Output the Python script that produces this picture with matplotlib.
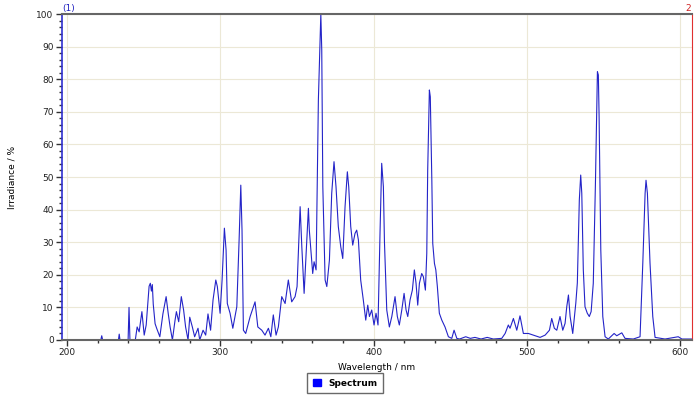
import numpy as np
import matplotlib.pyplot as plt
from matplotlib.ticker import MultipleLocator

# spectrum
wavelength = [
    196.7, 222.0, 222.6, 223.2, 233.5, 234.0, 234.5, 239.8, 240.4, 241.0,
    244.5, 245.7, 247.0, 248.8, 250.3, 251.6, 253.5, 254.3, 255.0, 255.6,
    256.2, 257.4, 258.5, 260.5, 262.5, 264.6, 266.0, 267.2, 268.7, 270.4,
    271.3, 272.8, 274.5, 276.0, 277.3, 278.9, 280.0, 281.7, 283.2, 285.4,
    286.5, 288.7, 290.4, 291.9, 293.6, 295.2, 297.0, 298.0, 299.8, 301.1,
    302.6, 303.7, 304.5, 306.3, 308.1, 310.7, 312.2, 313.3, 314.1, 315.0,
    316.5, 319.4, 322.6, 324.4, 327.0, 329.1, 331.3, 332.9, 334.5, 336.3,
    337.8, 340.0, 342.2, 344.3, 346.5, 348.7, 350.0, 352.0, 353.1, 354.6,
    355.9, 357.4, 358.0, 360.2, 361.1, 362.4, 363.9, 365.5, 366.1, 366.8,
    368.3, 369.4, 371.1, 372.6, 374.1, 375.4, 376.9, 378.5, 379.8, 381.3,
    382.8, 383.7, 385.0, 386.3, 387.8, 388.9, 390.0, 391.5, 393.2, 394.8,
    396.1, 397.2, 398.7, 400.2, 401.5, 402.8, 404.1, 405.2, 406.3, 407.0,
    408.5, 410.2, 411.8, 413.9, 415.4, 416.7, 418.3, 419.8, 421.1, 422.2,
    423.7, 425.2, 426.5, 427.6, 428.7, 429.8, 431.3, 432.4, 433.7, 434.6,
    435.2, 436.3, 436.9, 437.9, 438.5, 439.6, 440.5, 441.5, 442.8, 444.4,
    446.5, 448.7, 450.9, 452.4, 454.2, 456.0, 460.0, 463.0, 466.0, 470.0,
    474.0, 478.0, 483.5, 485.7, 487.8, 488.9, 491.1, 493.3, 495.4, 497.6,
    500.9, 504.1, 508.5, 511.8, 514.6, 516.1, 517.8, 519.4, 521.5, 523.3,
    524.8, 525.9, 527.0, 528.1, 529.8, 531.8, 532.8, 534.1, 535.0, 535.7,
    536.7, 537.8, 539.3, 540.6, 541.8, 543.2, 544.6, 545.9, 546.5, 547.0,
    548.1, 549.4, 550.9, 553.0, 556.8, 558.5, 561.8, 563.9, 569.3, 573.7,
    575.5, 577.0, 577.6, 578.5, 580.2, 582.0, 583.5, 590.0, 598.6, 601.0,
    607.6,
]
irradiance = [
    0.0, 0.0, 1.3, 0.0, 0.0, 1.8, 0.0, 0.0, 10.0, 0.0,
    0.0, 4.0, 2.5, 8.7, 1.5, 4.6, 16.5, 17.4, 15.0, 17.0,
    11.0, 5.0, 3.5, 1.0, 8.0, 13.3, 8.0, 4.0, 0.0, 6.0,
    8.7, 5.6, 13.3, 9.2, 4.0, 0.0, 7.0, 4.0, 1.0, 3.6,
    0.0, 3.0, 1.5, 8.0, 3.0, 12.3, 18.4, 16.4, 8.2, 18.4,
    34.3, 27.6, 11.2, 8.2, 3.6, 10.2, 30.7, 47.5, 33.7, 3.0,
    2.0, 7.2, 11.7, 4.0, 3.0, 1.5, 3.6, 1.0, 7.7, 1.5,
    4.0, 13.3, 11.2, 18.4, 11.7, 13.3, 16.4, 40.9, 28.6, 14.3,
    26.6, 40.4, 33.7, 20.4, 24.0, 21.5, 73.6, 100.0, 89.0, 47.0,
    18.4, 16.4, 24.5, 45.0, 54.7, 47.0, 34.8, 28.6, 25.0, 40.9,
    51.6, 47.0, 34.8, 29.1, 32.7, 33.7, 30.7, 18.4, 12.3, 6.1,
    10.7, 7.2, 9.2, 4.6, 8.2, 4.6, 32.7, 54.2, 47.0, 30.0,
    9.2, 4.0, 7.2, 13.3, 7.2, 4.6, 9.2, 14.3, 9.2, 7.2,
    12.3, 15.3, 21.5, 17.4, 10.7, 17.4, 20.4, 19.4, 15.3, 26.6,
    52.0, 76.7, 74.6, 49.0, 29.6, 23.5, 21.5, 16.4, 8.2, 6.1,
    4.0, 1.0, 0.5, 3.0, 0.5, 0.3, 1.0, 0.5, 0.8, 0.3,
    0.8, 0.3, 0.5, 2.0, 4.6, 3.6, 6.6, 3.0, 7.4, 2.0,
    2.0, 1.5, 0.8, 1.5, 3.0, 6.6, 3.6, 3.0, 7.2, 3.0,
    5.1, 10.2, 13.8, 7.2, 2.0, 11.3, 17.5, 43.0, 50.6, 45.0,
    21.5, 10.2, 8.2, 7.2, 8.7, 17.4, 48.0, 82.3, 81.3, 68.5,
    27.6, 7.2, 1.0, 0.3, 2.0, 1.3, 2.2, 0.5, 0.3, 1.0,
    23.6, 45.0, 49.0, 45.0, 23.6, 7.2, 0.8, 0.3, 1.0, 0.3,
    0.3,
]

fig = plt.figure(figsize=(7, 4.05), dpi=100)
ax = fig.add_axes([0.0886, 0.1605, 0.9, 0.8049])

ax.plot(wavelength, irradiance, color="#2424c8", linewidth=0.8, label="Spectrum")

ax.set_xlim(196.7, 607.6)
ax.set_ylim(0, 100)
ax.xaxis.set_major_locator(MultipleLocator(100))
ax.xaxis.set_minor_locator(MultipleLocator(20))
ax.yaxis.set_major_locator(MultipleLocator(10))
ax.yaxis.set_minor_locator(MultipleLocator(2))

ax.grid(True, which="major", color="#ece8d6", linewidth=0.8)
ax.set_axisbelow(True)

ax.spines["left"].set_color("#3030d0")
ax.spines["left"].set_linewidth(1.2)
ax.spines["right"].set_color("#e03030")
ax.spines["top"].set_color("#666666")
ax.spines["top"].set_linewidth(1.5)
ax.spines["bottom"].set_color("#666666")
ax.spines["bottom"].set_linewidth(1.5)

ax.tick_params(which="major", length=4, width=1, color="#333333",
               labelsize=6.5, labelcolor="#222222", pad=2)
ax.tick_params(which="minor", length=2, width=1, color="#333333")

ax.set_xlabel("Wavelength / nm", fontsize=6.5, labelpad=4)
ax.set_ylabel("Irradiance / %", fontsize=6.5, labelpad=14)

fig.text(0.0986, 0.98, "(1)", color="#2020c0", fontsize=6.5, ha="center", va="center")
fig.text(0.983, 0.98, "2", color="#d02020", fontsize=6.5, ha="center", va="center")

leg = fig.legend(handles=[plt.Rectangle((0, 0), 1, 1, color="#0000ff")],
                 labels=["Spectrum"], loc="center", bbox_to_anchor=(0.493, 0.054),
                 fontsize=6.5, frameon=True, fancybox=False, handlelength=0.9,
                 handleheight=0.9, borderpad=0.6)
leg.get_frame().set_edgecolor("#444444")
leg.get_frame().set_linewidth(1.0)
for t in leg.get_texts():
    t.set_fontweight("bold")

fig.savefig("out.png", dpi=100)
